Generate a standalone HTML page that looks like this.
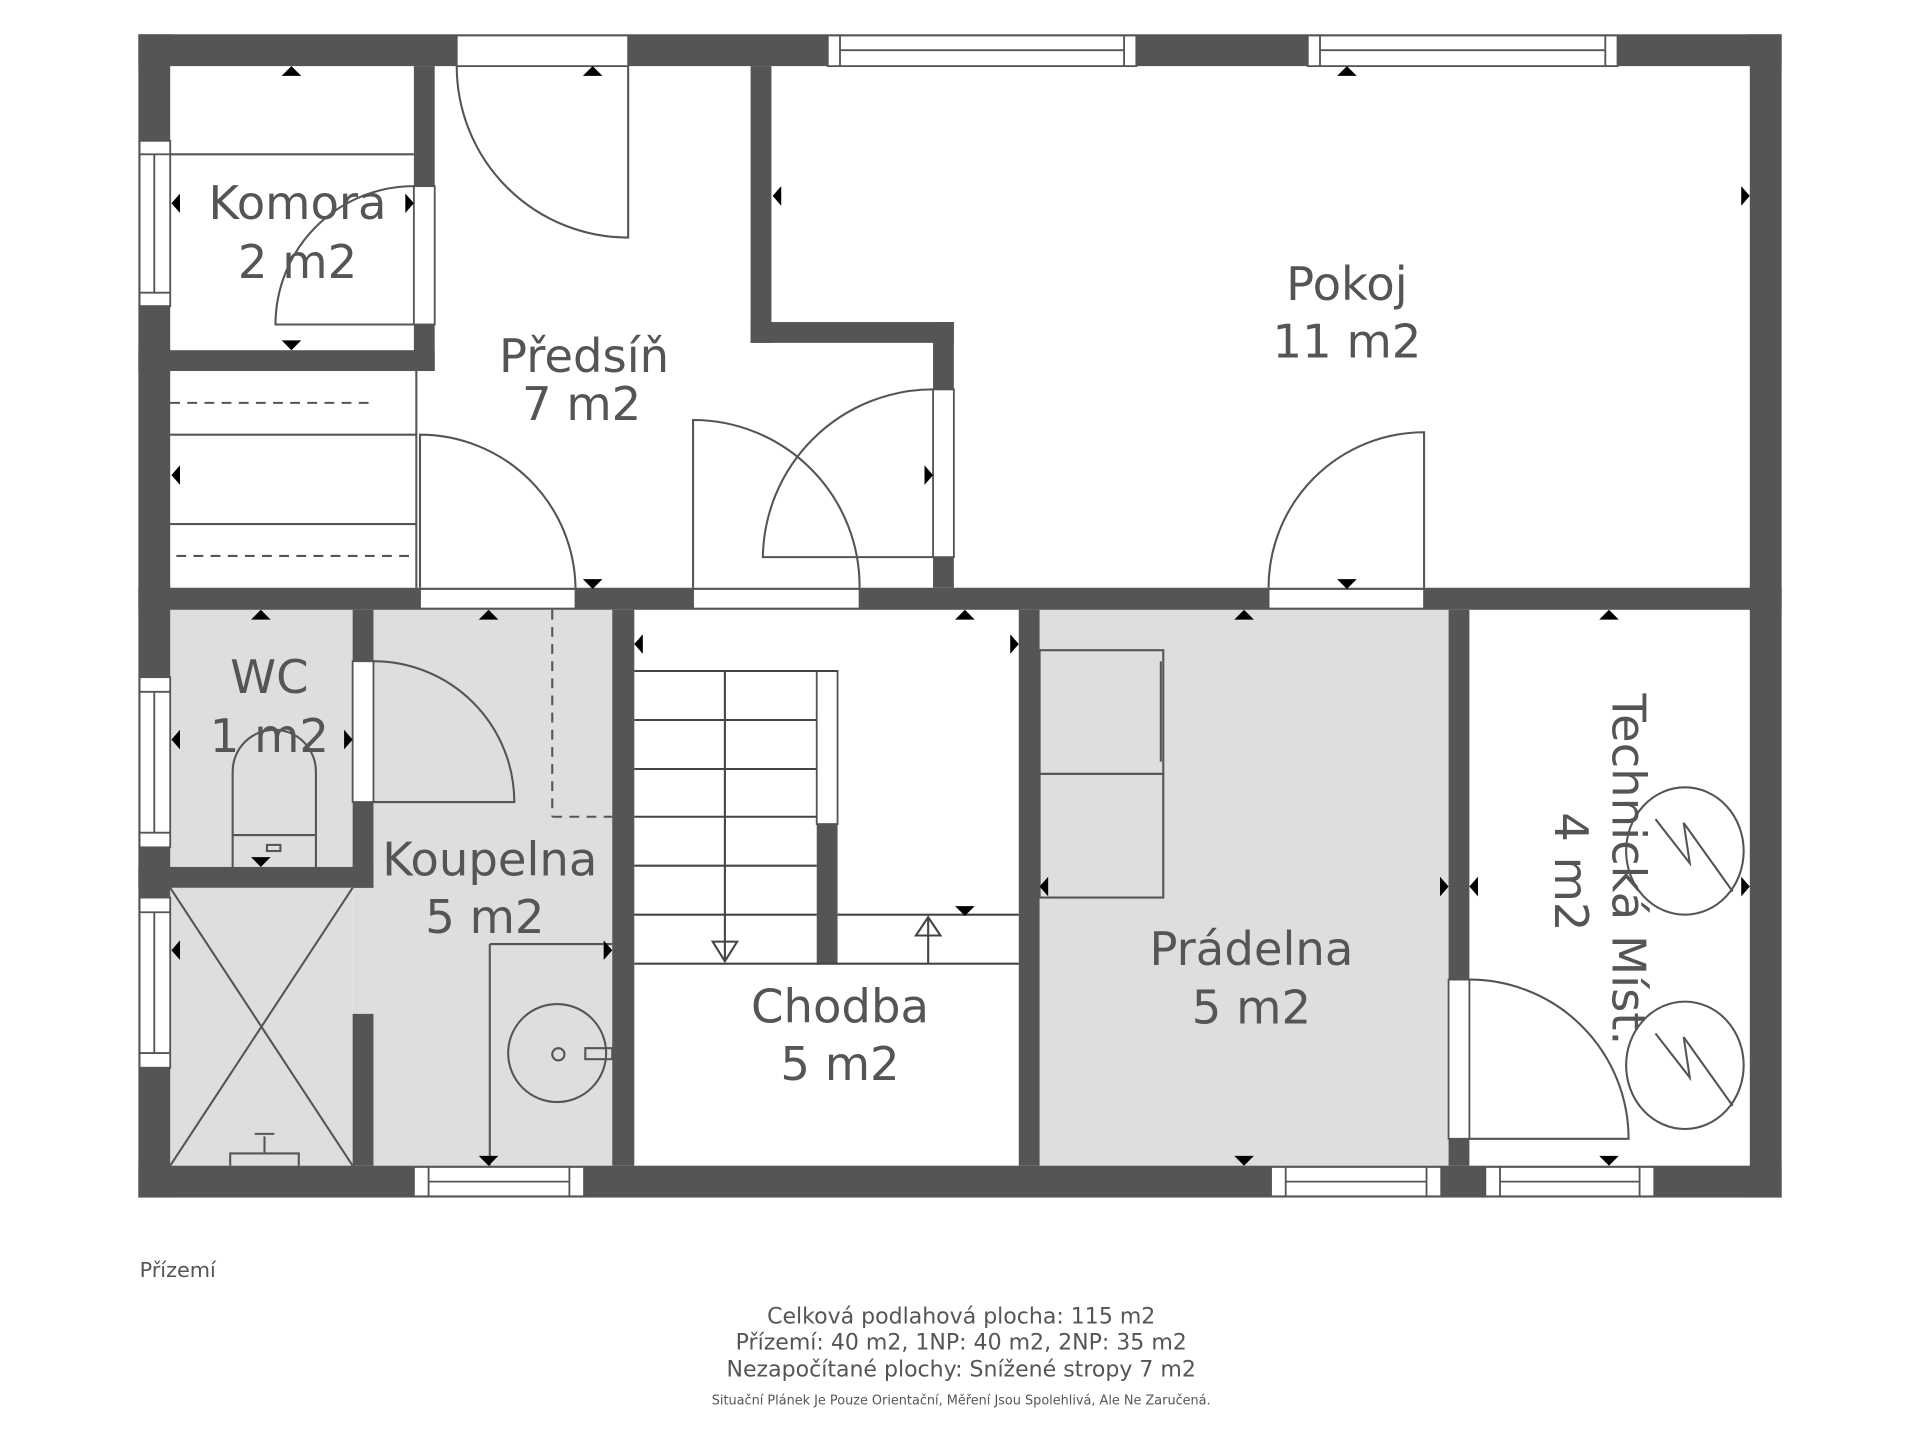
<!DOCTYPE html>
<html><head><meta charset="utf-8"><style>
html,body{margin:0;padding:0;background:#fff;}
svg{display:block;}
text{font-family:"DejaVu Sans","Liberation Sans",sans-serif;fill:#555;}
</style></head><body>
<svg width="1920" height="1440" viewBox="0 0 1568 1176" xmlns="http://www.w3.org/2000/svg">
<rect width="1568" height="1176" fill="#fff"/>
<g fill="#dedede">
<rect x="139" y="498" width="149" height="210"/>
<rect x="139" y="725" width="149" height="227"/>
<rect x="288" y="498" width="212" height="454"/>
<rect x="849" y="498" width="334" height="454"/>
</g>
<g fill="#555">
<rect x="113" y="28" width="1342" height="26"/>
<rect x="113" y="952" width="1342" height="26"/>
<rect x="113" y="28" width="26" height="950"/>
<rect x="1429" y="28" width="26" height="950"/>
<rect x="113" y="480" width="1342" height="18"/>
<rect x="338" y="54" width="17" height="249"/>
<rect x="113" y="286" width="242" height="17"/>
<rect x="613" y="54" width="17" height="226"/>
<rect x="613" y="263" width="166" height="17"/>
<rect x="762" y="263" width="17" height="217"/>
<rect x="288" y="498" width="17" height="227"/>
<rect x="113" y="708" width="192" height="17"/>
<rect x="288" y="828" width="17" height="124"/>
<rect x="500" y="498" width="18" height="454"/>
<rect x="832" y="498" width="17" height="454"/>
<rect x="1183" y="498" width="17" height="454"/>
<rect x="667" y="673" width="17" height="114"/>
</g>
<g fill="#fff" stroke="#555" stroke-width="1.5">
<rect x="373" y="29" width="140" height="25"/>
<rect x="676" y="29" width="252" height="25"/><line x1="686" y1="41" x2="918" y2="41"/><line x1="686" y1="29" x2="686" y2="54"/><line x1="918" y1="29" x2="918" y2="54"/>
<rect x="1068" y="29" width="253" height="25"/><line x1="1078" y1="41" x2="1311" y2="41"/><line x1="1078" y1="29" x2="1078" y2="54"/><line x1="1311" y1="29" x2="1311" y2="54"/>
<rect x="114" y="115" width="25" height="135"/><line x1="126" y1="126" x2="126" y2="239"/><line x1="114" y1="126" x2="139" y2="126"/><line x1="114" y1="239" x2="139" y2="239"/>
<rect x="114" y="553" width="25" height="139"/><line x1="126" y1="565" x2="126" y2="680"/><line x1="114" y1="565" x2="139" y2="565"/><line x1="114" y1="680" x2="139" y2="680"/>
<rect x="114" y="733" width="25" height="139"/><line x1="126" y1="745" x2="126" y2="860"/><line x1="114" y1="745" x2="139" y2="745"/><line x1="114" y1="860" x2="139" y2="860"/>
<rect x="338" y="953" width="139" height="24"/><line x1="350" y1="965" x2="465" y2="965"/><line x1="350" y1="953" x2="350" y2="977"/><line x1="465" y1="953" x2="465" y2="977"/>
<rect x="1038" y="953" width="139" height="24"/><line x1="1050" y1="965" x2="1165" y2="965"/><line x1="1050" y1="953" x2="1050" y2="977"/><line x1="1165" y1="953" x2="1165" y2="977"/>
<rect x="1213" y="953" width="138" height="24"/><line x1="1225" y1="965" x2="1339" y2="965"/><line x1="1225" y1="953" x2="1225" y2="977"/><line x1="1339" y1="953" x2="1339" y2="977"/>
<rect x="338" y="152" width="17" height="113"/>
<rect x="762" y="318" width="17" height="137"/>
<rect x="343" y="481" width="127" height="16"/>
<rect x="566" y="481" width="136" height="16"/>
<rect x="1036" y="481" width="127" height="16"/>
<rect x="288" y="540" width="17" height="115"/>
<rect x="1183" y="800" width="17" height="130"/>
<rect x="667" y="548" width="17" height="125"/>
</g>
<g fill="none" stroke="#555" stroke-width="1.7">
<line x1="139" y1="126" x2="338" y2="126"/>
<path d="M513 54 V194 A140 140 0 0 1 373 54"/>
<path d="M338 265 H225 A113 113 0 0 1 338 152"/>
<path d="M343 480 V355 A127 127 0 0 1 470 480"/>
<line x1="340" y1="303" x2="340" y2="480"/>
<line x1="139" y1="355" x2="340" y2="355"/>
<line x1="139" y1="428" x2="340" y2="428"/>
<line x1="139" y1="329" x2="305" y2="329" stroke-dasharray="8 6"/>
<line x1="144" y1="454" x2="340" y2="454" stroke-dasharray="8 6"/>
<path d="M566 480 V343 A136 136 0 0 1 702 480"/>
<path d="M762 455 H623 A139 139 0 0 1 762 318"/>
<path d="M1163 480 V353 A127 127 0 0 0 1036 480"/>
<path d="M305 655 H420 A115 115 0 0 0 305 540"/>
<line x1="451" y1="498" x2="451" y2="667" stroke-dasharray="8 6"/>
<line x1="451" y1="667" x2="500" y2="667" stroke-dasharray="8 6"/>
<path d="M190 708 V630 A34 34 0 0 1 258 630 V708"/>
<line x1="190" y1="682" x2="258" y2="682"/>
<rect x="218" y="690" width="11" height="5"/>
<line x1="139" y1="725" x2="288" y2="952"/><line x1="288" y1="725" x2="139" y2="952"/>
<path d="M188 952 V942 H244 V952 M216 942 V928 M208 926 H224"/>
<line x1="400" y1="771" x2="400" y2="952"/><line x1="400" y1="771" x2="500" y2="771"/>
<circle cx="455" cy="860" r="40"/><circle cx="456" cy="861" r="5"/>
<rect x="478" y="856" width="22" height="9"/>
<g stroke="#444">
<line x1="518" y1="548" x2="684" y2="548"/>
<line x1="518" y1="588" x2="667" y2="588"/>
<line x1="518" y1="628" x2="667" y2="628"/>
<line x1="518" y1="667" x2="667" y2="667"/>
<line x1="518" y1="707" x2="667" y2="707"/>
<line x1="518" y1="747" x2="667" y2="747"/>
<line x1="518" y1="787" x2="832" y2="787"/>
<line x1="684" y1="747" x2="832" y2="747"/>
<line x1="592" y1="548" x2="592" y2="785"/>
<path d="M582 769 L592 785 L602 769 Z"/>
<line x1="758" y1="787" x2="758" y2="749"/>
<path d="M748 764 L758 749 L768 764 Z"/>
</g>
<rect x="849" y="531" width="101" height="101"/>
<rect x="849" y="632" width="101" height="101"/>
<line x1="948" y1="540" x2="948" y2="622"/>
<path d="M1200 930 H1330 A130 130 0 0 0 1200 800"/>
<ellipse cx="1376" cy="695" rx="48" ry="52"/>
<ellipse cx="1376" cy="870" rx="48" ry="52"/>
<path d="M1352 669 L1380 705 L1375 672 L1415 728"/>
<path d="M1352 844 L1380 880 L1375 847 L1415 903"/>
</g>
<g fill="#000">
<path d="M230 62 h16 l-8 -8z"/><path d="M230 278 h16 l-8 8z"/>
<path d="M476 62 h16 l-8 -8z"/><path d="M476 473 h16 l-8 8z"/>
<path d="M147 158 v16 l-7 -8z"/><path d="M331 158 v16 l7 -8z"/>
<path d="M638 152 v16 l-7 -8z"/><path d="M1422 152 v16 l7 -8z"/>
<path d="M1092 62 h16 l-8 -8z"/><path d="M1092 473 h16 l-8 8z"/>
<path d="M147 380 v16 l-7 -8z"/><path d="M755 380 v16 l7 -8z"/>
<path d="M205 506 h16 l-8 -8z"/><path d="M205 700 h16 l-8 8z"/>
<path d="M147 596 v16 l-7 -8z"/><path d="M281 596 v16 l7 -8z"/>
<path d="M147 768 v16 l-7 -8z"/><path d="M493 768 v16 l7 -8z"/>
<path d="M391 506 h16 l-8 -8z"/><path d="M391 944 h16 l-8 8z"/>
<path d="M525 518 v16 l-7 -8z"/><path d="M825 518 v16 l7 -8z"/>
<path d="M780 506 h16 l-8 -8z"/><path d="M780 740 h16 l-8 8z"/>
<path d="M1008 506 h16 l-8 -8z"/><path d="M1008 944 h16 l-8 8z"/>
<path d="M856 716 v16 l-7 -8z"/><path d="M1176 716 v16 l7 -8z"/>
<path d="M1306 506 h16 l-8 -8z"/><path d="M1306 944 h16 l-8 8z"/>
<path d="M1207 716 v16 l-7 -8z"/><path d="M1422 716 v16 l7 -8z"/>
</g>
<g font-size="38" text-anchor="middle">
<text x="243" y="179">Komora</text><text x="243" y="227">2 m2</text>
<text x="477" y="304">Předsíň</text><text x="475" y="343">7 m2</text>
<text x="1100" y="245">Pokoj</text><text x="1100" y="292">11 m2</text>
<text x="220" y="566">WC</text><text x="220" y="614">1 m2</text>
<text x="400" y="715">Koupelna</text><text x="396" y="762">5 m2</text>
<text x="686" y="835">Chodba</text><text x="686" y="882">5 m2</text>
<text x="1022" y="788">Prádelna</text><text x="1022" y="836">5 m2</text>
<text transform="translate(1317,710) rotate(90)">Technická Míst.</text>
<text transform="translate(1270,712) rotate(90)">4 m2</text>
</g>
<text x="114" y="1043" font-size="17">Přízemí</text>
<g text-anchor="middle" font-size="18">
<text x="785" y="1081">Celková podlahová plocha: 115 m2</text>
<text x="785" y="1102">Přízemí: 40 m2, 1NP: 40 m2, 2NP: 35 m2</text>
<text x="785" y="1124">Nezapočítané plochy: Snížené stropy 7 m2</text>
<text x="785" y="1147" font-size="10.5">Situační Plánek Je Pouze Orientační, Měření Jsou Spolehlivá, Ale Ne Zaručená.</text>
</g>
</svg>
</body></html>
